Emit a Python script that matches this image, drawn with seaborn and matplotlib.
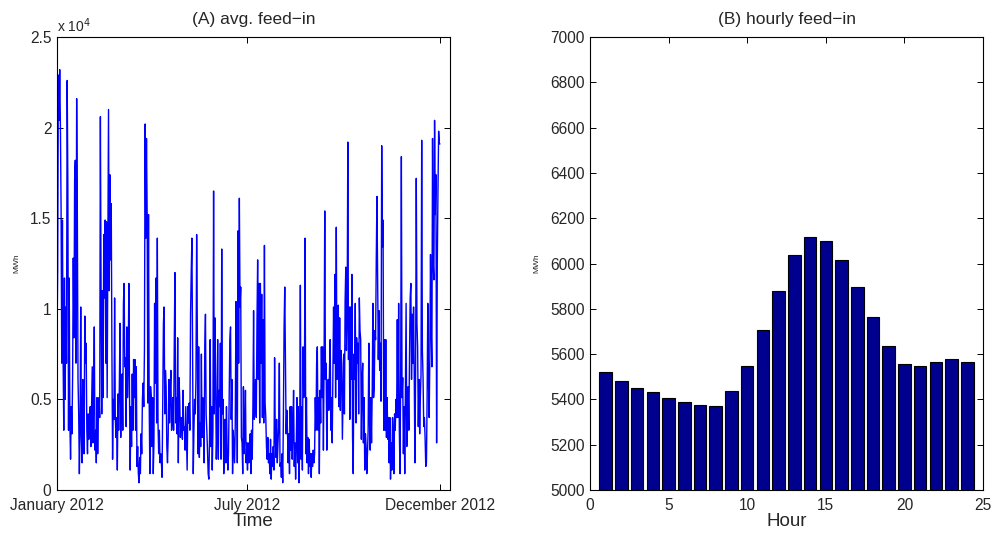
import numpy as np
import pandas as pd
import matplotlib
matplotlib.use("Agg")
import matplotlib.pyplot as plt
import seaborn as sns

# ---- Data -----------------------------------------------------------------
# (A) average wind feed-in over 2012, in units of 10^4 MWh
feed_jan_mar = [0.83,1.21,2.29,2.04,2.32,2.02,1.56,0.70,1.49,0.73,0.33,1.17,0.50,1.01,0.70,2.26,1.69,0.33,1.17,0.37,
                0.17,0.46,0.31,0.61,1.28,0.84,1.71,1.82,0.70,2.16,1.52,0.61,0.42,0.09,0.33,1.01,0.29,0.15,0.61,0.33,
                0.20,0.96,0.70,0.81,0.33,0.20,0.42,0.28,0.33,0.46,0.24,0.46,0.68,0.26,0.51,0.90,0.22,0.33,0.15,0.51,
                0.20,0.40,0.51,0.40,2.06,1.10,0.42,1.10,0.51,1.41,1.06,1.49,0.70,1.48,0.51,1.28,2.10,1.10,1.74,1.27,
                1.58,0.77,0.17,0.50,0.39,1.06,0.40,0.29,0.40,0.11,0.53,0.33,0.59,0.92,0.29,0.51,0.64,0.33,1.03,1.14,
                0.68,0.73,0.35,0.90,0.51,0.68,1.14,0.51]
feed_mar_may = [0.11,0.46,0.24,0.64,0.33,0.72,0.51,0.72,0.33,0.68,0.13,0.24,0.09,0.04,0.18,0.09,0.31,0.20,0.50,0.59,
                0.46,0.77,2.02,1.39,1.94,1.52,0.48,1.52,0.48,0.09,0.57,0.51,0.24,0.51,0.09,0.26,1.03,0.59,1.17,0.37,
                1.39,0.37,0.20,0.33,0.15,0.20,0.15,0.07,0.51,0.92,1.01,0.42,0.66,0.57,0.24,0.15,0.29,0.61,0.37,0.55,
                0.66,0.33,0.39,0.51,0.33,0.81,1.20,0.37,0.51,0.31,0.84,0.15,0.62,0.51,0.29,0.40,0.37,0.28,0.55,0.33,
                0.35,0.22,0.46,0.28,0.11,0.46,0.37,0.48,0.33,0.97,1.20,1.39,0.79,0.09,0.33,0.50,0.42,0.61,1.41,0.90,
                0.20,0.79,0.18,0.37,0.24,0.75,0.29,0.51,0.42,0.15,0.79,0.97,0.42,0.33,0.22,0.09]
feed_jun_aug = [0.06,0.28,0.83,0.24,0.46,0.11,0.33,1.65,0.42,0.95,0.61,0.17,0.33,0.83,0.17,0.55,0.46,0.81,0.17,1.33,
                0.42,0.50,0.09,0.26,0.39,0.15,0.46,0.22,0.11,0.20,0.51,0.83,0.90,0.39,0.61,0.09,0.33,0.24,0.15,0.37,
                1.04,0.73,0.15,1.43,0.70,1.61,1.01,1.12,0.29,0.26,0.09,0.57,0.20,0.31,0.55,0.15,0.26,0.11,0.26,0.15,
                0.24,0.31,0.09,0.33,0.17,0.46,0.99,0.39,0.51,0.61,0.40,0.92,1.27,0.61,1.14,0.37,1.14,0.70,1.08,0.40,
                0.94,0.37,1.35,0.48,0.40,0.24,0.17,0.29,0.15,0.20,0.09,0.28,0.06,0.20,0.13,0.24,0.11,0.73,0.29,0.18,
                0.39,0.15,0.26,0.35,0.70,0.13,0.15,0.07,0.20,0.04,0.42,0.90,1.12,0.70,0.31,0.44]
feed_aug_oct = [0.33,0.15,0.31,0.09,0.46,0.22,0.46,0.17,0.33,0.55,0.13,0.26,0.06,0.26,0.51,0.15,0.46,0.04,0.24,1.13,
                0.17,0.46,0.11,0.79,0.51,0.62,1.39,0.20,0.51,0.15,0.29,0.09,0.28,0.13,0.20,0.07,0.20,0.13,0.22,0.15,
                0.20,0.51,0.33,0.70,0.79,0.33,0.51,0.09,0.55,0.37,0.79,0.51,0.79,0.22,0.70,1.54,0.61,0.70,0.22,0.50,
                0.61,0.44,0.66,0.83,0.33,0.51,0.26,0.66,1.01,0.70,1.19,0.51,1.45,0.61,0.70,1.02,0.46,0.95,0.44,0.77,
                0.70,0.28,0.51,0.75,0.42,1.04,1.23,0.77,0.92,1.92,0.72,1.01,0.39,1.01,0.61,1.19,0.29,0.09,0.75,0.61,
                1.03,0.37,0.84,0.70,0.81,0.42,1.06,0.88,0.83,0.28,0.61,0.70,0.26,0.51,0.11,0.31]
feed_oct_dec = [0.24,0.09,0.20,0.33,0.81,0.39,0.22,0.51,0.26,0.55,1.03,0.51,0.57,0.88,0.83,1.28,1.62,1.17,0.72,0.99,
                0.66,0.81,0.49,1.90,1.34,1.49,0.33,0.83,0.33,0.83,0.29,0.51,0.28,0.40,0.15,0.40,0.06,0.26,0.11,0.40,
                0.31,0.09,0.42,0.33,0.50,0.40,0.94,0.40,1.03,0.33,0.09,0.64,1.84,0.51,0.62,0.20,0.46,0.09,0.57,1.03,
                0.24,0.51,0.57,0.33,0.73,1.06,1.14,0.61,0.97,0.70,1.01,0.64,0.15,0.64,1.72,0.92,0.79,0.35,0.61,0.31,
                0.51,0.64,1.93,0.77,0.62,0.35,0.40,0.29,0.13,0.15,0.51,1.03,0.61,0.40,0.73,1.30,0.88,0.68,1.94,1.25,
                1.16,2.04,1.52,1.74,0.26,1.25,1.65,1.98,1.91,1.91]
time_tick_labels = ["January 2012", "July 2012", "December 2012"]

# (B) hourly feed-in, MWh
hours = list(range(1, 25))
hourly_feed = [5520, 5480, 5449, 5432, 5407, 5388, 5376, 5373, 5438, 5549, 5707, 5880,
               6037, 6115, 6098, 6015, 5897, 5764, 5634, 5558, 5546, 5564, 5580, 5565]

# ---- Plot -----------------------------------------------------------------
sns.set_style("ticks")
plt.rcParams["font.family"] = ["Liberation Sans", "DejaVu Sans"]

feed = feed_jan_mar + feed_mar_may + feed_jun_aug + feed_aug_oct + feed_oct_dec
n = len(feed)
df_a = pd.DataFrame({"t": np.arange(n), "feed": feed})
df_b = pd.DataFrame({"hour": hours, "feed": hourly_feed})

fig = plt.figure(figsize=(9.95, 5.35), dpi=100)
ax1 = fig.add_axes([57/995, 1-490/535, 393/995, 453/535])
ax2 = fig.add_axes([590/995, 1-490/535, 393/995, 453/535])

sns.lineplot(data=df_a, x="t", y="feed", ax=ax1, color=(0, 0, 1), linewidth=1.0,
             estimator=None, sort=False)
last = n - 1
ax1.set_xlim(0, last * 393/383)
ax1.set_ylim(0, 2.5)
ax1.set_xticks([0, last * 190/383, last])
ax1.set_xticklabels(time_tick_labels)
ax1.set_yticks([0, 0.5, 1, 1.5, 2, 2.5])
ax1.set_yticklabels(["0", "0.5", "1", "1.5", "2", "2.5"])
ax1.set_title("(A) avg. feed\u2212in", fontsize=12.5, pad=9)
ax1.set_xlabel("Time", fontsize=13.5, labelpad=0)
ax1.set_ylabel("MWh", fontsize=6, labelpad=7)
ax1.text(0.0, 1.005, r"x 10$^4$", transform=ax1.transAxes, fontsize=10, ha="left", va="bottom")

sns.barplot(data=df_b, x="hour", y="feed", ax=ax2, native_scale=True, width=0.8,
            color="#00008F", saturation=1, edgecolor="black", linewidth=0.8, errorbar=None)
ax2.set_xlim(0, 25)
ax2.set_ylim(5000, 7000)
ax2.set_xticks([0, 5, 10, 15, 20, 25])
ax2.set_xticklabels(["0", "5", "10", "15", "20", "25"])
ax2.set_yticks(np.arange(5000, 7001, 200))
ax2.set_title("(B) hourly feed\u2212in", fontsize=12.5, pad=9)
ax2.set_xlabel("Hour", fontsize=13.5, labelpad=0)
ax2.set_ylabel("MWh", fontsize=6, labelpad=7)

for ax in (ax1, ax2):
    ax.tick_params(direction="in", top=True, right=True, length=4, width=0.7,
                   labelsize=11.2, color="black")
    ax.tick_params(axis="x", pad=6)
    ax.tick_params(axis="y", pad=4)
    for s in ax.spines.values():
        s.set_visible(True)
        s.set_color("black")
        s.set_linewidth(0.8)
    ax.grid(False)

fig.savefig("out.png", dpi=100)
